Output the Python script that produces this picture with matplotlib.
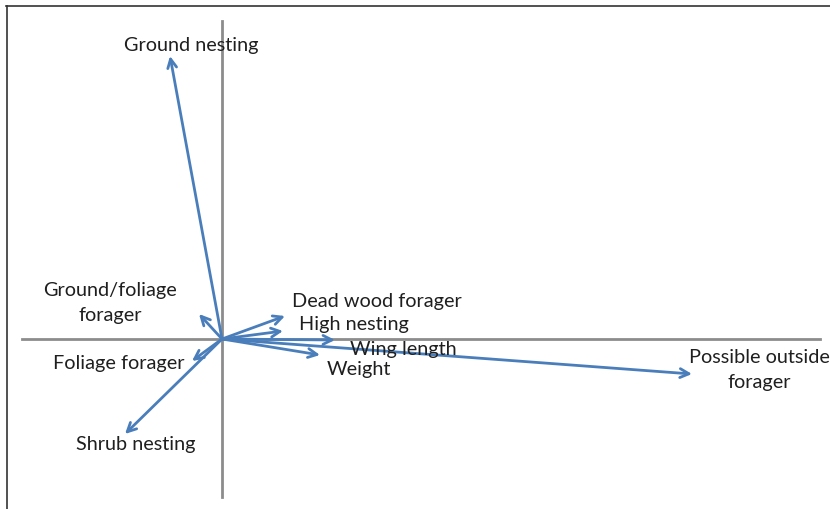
import matplotlib
matplotlib.use('Agg')
import matplotlib.pyplot as plt
from matplotlib.lines import Line2D

# Loadings (biplot vectors)
variables = ['Ground nesting', 'Ground/foliage\nforager', 'Foliage forager', 'Shrub nesting',
             'Dead wood forager', 'High nesting', 'Wing length', 'Weight',
             'Possible outside\nforager']
load_x = [-0.104, -0.046, -0.060, -0.194, 0.126, 0.122, 0.226, 0.196, 0.940]
load_y = [0.566, 0.050, -0.044, -0.190, 0.046, 0.016, -0.002, -0.032, -0.070]

# label placement (x, y, horizontal alignment)
label_pos = [(-0.196, 0.590, 'left'), (-0.224, 0.074, 'center'), (-0.338, -0.048, 'left'),
             (-0.292, -0.210, 'left'), (0.140, 0.076, 'left'), (0.154, 0.030, 'left'),
             (0.256, -0.020, 'left'), (0.210, -0.060, 'left'), (1.074, -0.060, 'center')]

blue = '#4a7ebb'
plt.rcParams['font.family'] = ['Lato', 'DejaVu Sans']

fig = plt.figure(figsize=(8.3, 5.1), dpi=100)
ax = fig.add_axes([0, 0, 1, 1])
ax.set_xlim(-0.444, 1.216)
ax.set_ylim(-0.34, 0.68)
ax.axis('off')

# axis cross
ax.plot([-0.40, 1.196], [0, 0], color='#8c8c8c', lw=2, zorder=1)
ax.plot([0, 0], [-0.316, 0.636], color='#8c8c8c', lw=2, zorder=1)

for name, x, y, (tx, ty, ha) in zip(variables, load_x, load_y, label_pos):
    ax.annotate('', xy=(x, y), xytext=(0, 0),
                arrowprops=dict(arrowstyle='->', color=blue, lw=2,
                                mutation_scale=16, shrinkA=0, shrinkB=0), zorder=3)
    ax.text(tx, ty, name, ha=ha, va='center', fontsize=14.3, color='#1f1f1f',
            linespacing=1.55, multialignment='center', zorder=4)

# frame like the original picture
fig.add_artist(Line2D([6/830, 1], [1 - 7/510, 1 - 7/510], color='#333333', lw=1.2))
fig.add_artist(Line2D([7/830, 7/830], [0, 1 - 7/510], color='#333333', lw=1.2))

fig.savefig('out.png', dpi=100, facecolor='white')
